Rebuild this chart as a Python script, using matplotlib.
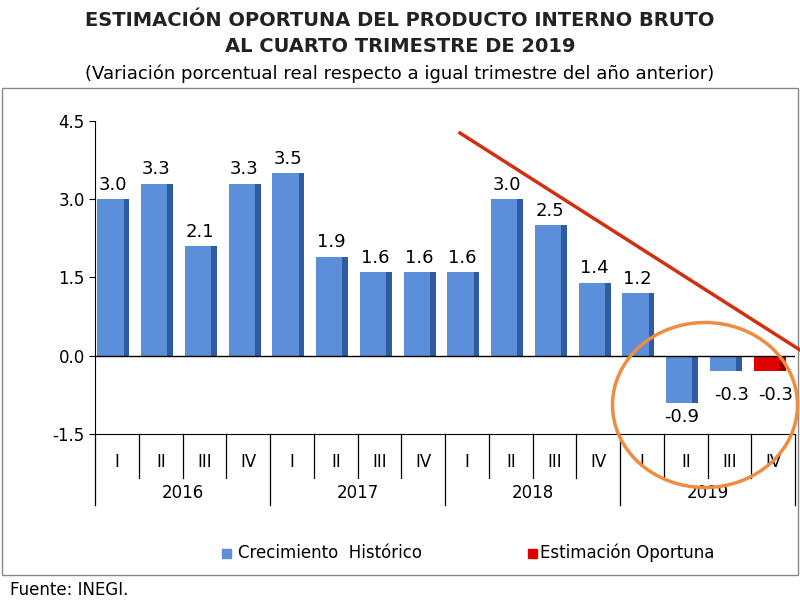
import matplotlib
matplotlib.use("Agg")
import matplotlib.pyplot as plt
from matplotlib.patches import Rectangle, Ellipse
from matplotlib.lines import Line2D

quarters = ["I","II","III","IV"]*4
years = ["2016","2017","2018","2019"]
values = [3.0,3.3,2.1,3.3,3.5,1.9,1.6,1.6,1.6,3.0,2.5,1.4,1.2,-0.9,-0.3,-0.3]
labels = ["3.0","3.3","2.1","3.3","3.5","1.9","1.6","1.6","1.6","3.0","2.5","1.4","1.2","-0.9","-0.3","-0.3"]
is_estimate = [False]*15+[True]
yticks = [-1.5,0.0,1.5,3.0,4.5]

fig = plt.figure(figsize=(8,6), dpi=100)
ax = fig.add_axes([0.119,0.2767,0.875,0.5217])
n = len(values)
ax.set_xlim(-0.5, n-0.5)
ax.set_ylim(-1.5,4.5)
w=0.6; sw=0.13
for i,(v,e) in enumerate(zip(values,is_estimate)):
    front = "#E00000" if e else "#5B8FD9"
    side = "#900000" if e else "#2E5C9E"
    ax.bar(i-0.5+0.05, v, width=w, align="edge", color=front, zorder=3)
    ax.bar(i-0.5+0.05+w, v, width=sw, align="edge", color=side, zorder=3)
    if v>=0:
        ax.text(i-0.1, v+0.1, labels[i], ha="center", va="bottom", fontsize=13)
    elif i==13:
        ax.text(i-0.1, v-0.1, labels[i], ha="center", va="top", fontsize=13)
    else:
        ax.text(i+0.05, -0.75, labels[i], ha="center", va="center", fontsize=13)
ax.axhline(0,color="black",lw=1,zorder=4)
ax.set_yticks(yticks)
ax.set_yticklabels([f"{t:.1f}" for t in yticks], fontsize=12)
ax.set_xticks([])
for s in ["top","right"]:
    ax.spines[s].set_visible(False)
ax.tick_params(axis="y", length=4)
for i in range(n+1):
    x=i-0.5
    bottom = -0.227 if i%4==0 else -0.14
    ax.add_line(Line2D([x,x],[0,bottom],transform=ax.get_xaxis_transform(),color="black",lw=0.9,clip_on=False))
for i,q in enumerate(quarters):
    ax.text(i, -0.09, q, transform=ax.get_xaxis_transform(), ha="center", va="center", fontsize=12)
for j,y in enumerate(years):
    ax.text(4*j+1.5, -0.19, y, transform=ax.get_xaxis_transform(), ha="center", va="center", fontsize=12)

fig.text(0.5,0.965,"ESTIMACIÓN OPORTUNA DEL PRODUCTO INTERNO BRUTO",ha="center",va="center",fontsize=14,fontweight="bold",color="#222")
fig.text(0.5,0.922,"AL CUARTO TRIMESTRE DE 2019",ha="center",va="center",fontsize=14,fontweight="bold",color="#222")
fig.text(0.5,0.877,"(Variación porcentual real respecto a igual trimestre del año anterior)",ha="center",va="center",fontsize=13)
fig.add_artist(Rectangle((0.002,0.042),0.996,0.812,transform=fig.transFigure,fill=False,ec="#888",lw=1))
fig.add_artist(Line2D([460/800,1.0],[1-133/600,1-350/600],transform=fig.transFigure,color="#D03010",lw=2.5))
fig.add_artist(Ellipse((705/800,1-405/600),185/800,165/600,transform=fig.transFigure,fill=False,ec="#F08C40",lw=2.5))
fig.add_artist(Rectangle((222/800,1-558/600),9/800,9/600,transform=fig.transFigure,color="#5B8FD9"))
fig.text(238/800,1-553/600,"Crecimiento  Histórico",va="center",fontsize=12)
fig.add_artist(Rectangle((528/800,1-558/600),9/800,9/600,transform=fig.transFigure,color="#E00000"))
fig.text(540/800,1-553/600,"Estimación Oportuna",va="center",fontsize=12)
fig.text(0.012,1-590/600,"Fuente: INEGI.",va="center",fontsize=12)
fig.savefig("out.png")
